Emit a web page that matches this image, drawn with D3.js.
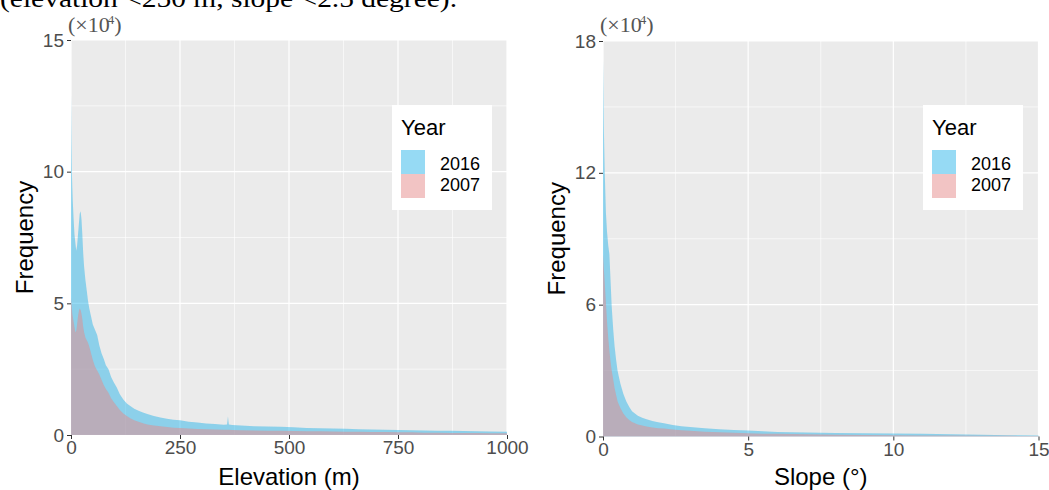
<!DOCTYPE html>
<html>
<head>
<meta charset="utf-8">
<script src="https://cdn.jsdelivr.net/npm/d3@7"></script>
<style>
  body { margin: 0; background: #fff; }
  svg { display: block; font-family: "Liberation Sans", Arial, sans-serif; }
</style>
</head>
<body>
<svg width="1049" height="490"></svg>
<script>
// values in units of 10^4
const elevX = [0,1,2,3,4,6,8,10,12,14,16,18,20,22,24,26,28,30,33,36,39,42,46,50,55,60,65,70,75,80,86,92,98,105,112,120,128,136,145,155,165,175,190,205,220,235,250,270,290,310,330,350,358,360,362,370,390,420,450,480,510,540,570,600,630,660,690,720,750,780,810,840,870,900,930,960,1000];
const elev2016 = [12.9,11.2,10.0,9.4,8.9,8.2,7.6,7.3,7.0,7.2,7.6,8.0,8.4,8.5,8.2,7.6,6.9,6.4,5.9,5.5,5.1,4.8,4.5,4.2,4.0,3.8,3.4,3.1,2.9,2.65,2.5,2.2,2.0,1.8,1.55,1.35,1.2,1.1,1.0,0.92,0.85,0.8,0.72,0.66,0.62,0.58,0.56,0.5,0.47,0.44,0.42,0.39,0.4,0.7,0.4,0.38,0.36,0.33,0.32,0.31,0.29,0.27,0.26,0.25,0.24,0.22,0.21,0.2,0.19,0.18,0.17,0.16,0.16,0.15,0.14,0.13,0.12];
const elev2007 = [5.2,5.0,4.8,4.6,4.5,4.3,4.1,3.9,3.95,4.2,4.5,4.7,4.8,4.75,4.6,4.4,4.1,3.9,3.7,3.6,3.5,3.35,3.1,2.85,2.6,2.45,2.3,2.1,1.9,1.75,1.6,1.4,1.25,1.1,0.95,0.82,0.72,0.64,0.56,0.5,0.45,0.4,0.36,0.33,0.3,0.28,0.27,0.25,0.23,0.22,0.21,0.2,0.2,0.2,0.2,0.19,0.18,0.17,0.16,0.16,0.15,0.14,0.14,0.13,0.12,0.12,0.11,0.11,0.1,0.1,0.09,0.09,0.08,0.08,0.08,0.07,0.07];

const slopeX = [0,0.03,0.06,0.1,0.14,0.18,0.22,0.26,0.3,0.35,0.4,0.45,0.5,0.55,0.6,0.7,0.8,0.9,1.0,1.1,1.2,1.35,1.5,1.7,1.9,2.1,2.4,2.7,3.0,3.5,4.0,4.5,5.0,5.5,6.0,6.5,7.0,7.5,8.0,9.0,10.0,11.0,12.0,13.0,14.0,15.0];
const slope2016 = [17.1,14.0,12.0,10.2,9.3,8.7,8.3,7.1,5.9,4.9,4.1,3.5,3.0,2.7,2.4,1.95,1.6,1.35,1.15,1.05,0.95,0.85,0.78,0.7,0.65,0.6,0.52,0.47,0.43,0.37,0.33,0.3,0.27,0.24,0.21,0.19,0.18,0.17,0.16,0.15,0.14,0.12,0.1,0.08,0.06,0.05];
const slope2007 = [8.3,7.6,7.0,6.1,5.2,4.5,3.9,3.4,3.0,2.6,2.2,1.9,1.6,1.45,1.3,1.05,0.88,0.75,0.66,0.6,0.55,0.5,0.45,0.41,0.38,0.36,0.32,0.29,0.26,0.22,0.19,0.17,0.15,0.13,0.12,0.11,0.1,0.09,0.08,0.07,0.06,0.05,0.04,0.03,0.03,0.02];

const years = ["2016", "2007"];
const elevTicksX = [0, 250, 500, 750, 1000];
const elevTicksY = [0, 5, 10, 15];
const slopeTicksX = [0, 5, 10, 15];
const slopeTicksY = [0, 6, 12, 18];

const svg = d3.select("svg");
const fillColor = { "2016": "#2DB5EA", "2007": "#E6898A" };

// caption line cut off at the top
svg.append("text")
    .attr("x", 0).attr("y", 7)
    .attr("font-family", "'Liberation Serif', 'Times New Roman', serif")
    .attr("font-size", 25)
    .attr("textLength", 457)
    .attr("lengthAdjust", "spacingAndGlyphs")
    .text("(elevation <250 m, slope <2.5 degree).");

function drawPanel(opt) {
    const x = d3.scaleLinear().domain(opt.xDomain).range([opt.left, opt.right]);
    const y = d3.scaleLinear().domain(opt.yDomain).range([opt.bottom, opt.top]);
    const g = svg.append("g");

    g.append("rect")
        .attr("x", opt.left).attr("y", opt.top)
        .attr("width", opt.right - opt.left).attr("height", opt.bottom - opt.top)
        .attr("fill", "#EBEBEB");

    // minor grid
    const xm = opt.xTicks.slice(1).map((t, i) => (t + opt.xTicks[i]) / 2);
    const ym = opt.yTicks.slice(1).map((t, i) => (t + opt.yTicks[i]) / 2);
    g.selectAll(".xm").data(xm).join("line")
        .attr("x1", d => x(d)).attr("x2", d => x(d))
        .attr("y1", opt.top).attr("y2", opt.bottom)
        .attr("stroke", "#fff").attr("stroke-width", 0.6);
    g.selectAll(".ym").data(ym).join("line")
        .attr("y1", d => y(d)).attr("y2", d => y(d))
        .attr("x1", opt.left).attr("x2", opt.right)
        .attr("stroke", "#fff").attr("stroke-width", 0.6);
    // major grid
    g.selectAll(".xg").data(opt.xTicks).join("line")
        .attr("x1", d => x(d)).attr("x2", d => x(d))
        .attr("y1", opt.top).attr("y2", opt.bottom)
        .attr("stroke", "#fff").attr("stroke-width", 1.2);
    g.selectAll(".yg").data(opt.yTicks).join("line")
        .attr("y1", d => y(d)).attr("y2", d => y(d))
        .attr("x1", opt.left).attr("x2", opt.right)
        .attr("stroke", "#fff").attr("stroke-width", 1.2);

    // histograms (2016 behind, 2007 on top)
    const area = d3.area()
        .x(d => x(d[0])).y0(y(0)).y1(d => y(d[1]));
    [["2016", opt.s2016], ["2007", opt.s2007]].forEach(([yr, vals]) => {
        g.append("path")
            .datum(opt.xs.map((v, i) => [v, vals[i]]))
            .attr("fill", fillColor[yr])
            .attr("fill-opacity", 0.5)
            .attr("d", area);
    });

    // axes
    const ax = g.append("g").attr("transform", `translate(0,${opt.bottom})`)
        .call(d3.axisBottom(x).tickValues(opt.xTicks).tickFormat(d3.format("d")).tickSize(4).tickPadding(2));
    const ay = g.append("g").attr("transform", `translate(${opt.left},0)`)
        .call(d3.axisLeft(y).tickValues(opt.yTicks).tickSize(4).tickPadding(3));
    [ax, ay].forEach(a => {
        a.select(".domain").remove();
        a.selectAll(".tick line").attr("stroke", "#333");
        a.selectAll(".tick text").attr("fill", "#4D4D4D").attr("font-size", 19)
            .attr("font-family", "'Liberation Sans', Arial, sans-serif");
    });

    // exponent label
    const ex = g.append("text")
        .attr("x", opt.left - 3).attr("y", 32)
        .attr("font-family", "'Liberation Serif', 'Times New Roman', serif")
        .attr("font-size", 22).attr("fill", "#555");
    ex.append("tspan").text("(\u00D710");
    ex.append("tspan").attr("dy", -8).attr("dx", -2).attr("font-size", 13).text("4");
    ex.append("tspan").attr("dy", 8).text(")");

    // axis titles
    g.append("text")
        .attr("x", (opt.left + opt.right) / 2).attr("y", 485)
        .attr("text-anchor", "middle").attr("font-size", 24)
        .text(opt.xTitle);
    g.append("text")
        .attr("transform", `translate(${opt.left - 38},${(opt.top + opt.bottom) / 2}) rotate(-90)`)
        .attr("text-anchor", "middle").attr("font-size", 24)
        .text("Frequency");

    // legend
    const lg = g.append("g").attr("transform", `translate(${opt.legendX},105)`);
    lg.append("rect").attr("width", 100).attr("height", 105).attr("fill", "#fff");
    lg.append("text").attr("x", 9).attr("y", 30).attr("font-size", 22).text("Year");
    years.forEach((yr, i) => {
        lg.append("rect")
            .attr("x", 9).attr("y", 45 + i * 24)
            .attr("width", 24).attr("height", 24)
            .attr("fill", fillColor[yr]).attr("fill-opacity", 0.5);
        lg.append("text")
            .attr("x", 48).attr("y", 65 + i * 21)
            .attr("font-size", 18).text(yr);
    });
}

drawPanel({
    left: 71, right: 507, top: 40, bottom: 435,
    xDomain: [0, 1000], yDomain: [0, 15],
    xTicks: elevTicksX, yTicks: elevTicksY,
    xs: elevX, s2016: elev2016, s2007: elev2007,
    xTitle: "Elevation (m)", legendX: 392
});
drawPanel({
    left: 603, right: 1038.5, top: 41, bottom: 436.5,
    xDomain: [0, 15], yDomain: [0, 18],
    xTicks: slopeTicksX, yTicks: slopeTicksY,
    xs: slopeX, s2016: slope2016, s2007: slope2007,
    xTitle: "Slope (\u00B0)", legendX: 923
});
</script>
</body>
</html>
